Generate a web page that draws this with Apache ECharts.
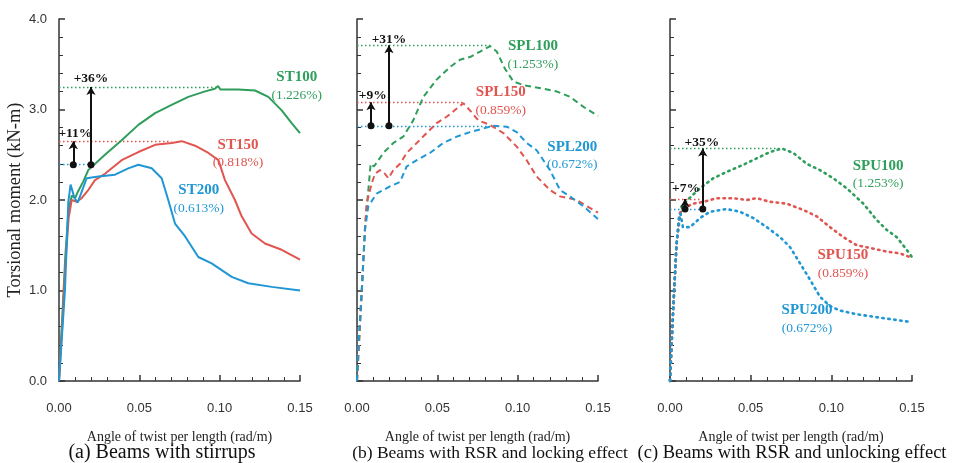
<!DOCTYPE html>
<html><head><meta charset="utf-8">
<script src="https://cdn.jsdelivr.net/npm/echarts@6/dist/echarts.min.js"></script>
<style>html,body{margin:0;padding:0;background:#fff}#c{width:953px;height:463px}</style>
</head><body><div id="c"></div>
<script>
// ---- data (x: rad/m, y: kN-m) ----
const st100 = [[0,0],[0.002,0.7],[0.004,1.4],[0.006,1.9],[0.008,2.05],[0.010,2.02],[0.012,2.1],[0.015,2.2],[0.0182,2.33],[0.0286,2.5],[0.039,2.66],[0.0494,2.83],[0.0598,2.96],[0.0701,3.05],[0.0805,3.14],[0.0909,3.2],[0.097,3.23],[0.099,3.26],[0.1005,3.22],[0.1116,3.22],[0.122,3.21],[0.1303,3.14],[0.1386,2.99],[0.1448,2.85],[0.15,2.74]];
const st150 = [[0,0],[0.002,0.6],[0.004,1.3],[0.006,1.8],[0.0079,2.0],[0.011,1.98],[0.0141,2.02],[0.0182,2.11],[0.0224,2.22],[0.0286,2.29],[0.039,2.44],[0.0494,2.53],[0.0598,2.61],[0.0701,2.63],[0.0764,2.65],[0.0847,2.6],[0.093,2.52],[0.0992,2.44],[0.1033,2.22],[0.1095,2.0],[0.1137,1.82],[0.1199,1.63],[0.1282,1.52],[0.1386,1.45],[0.15,1.34]];
const st200 = [[0,0],[0.0037,1.0],[0.0058,1.98],[0.0072,2.17],[0.0095,2.03],[0.0116,1.97],[0.0137,2.07],[0.0172,2.24],[0.0245,2.26],[0.0349,2.28],[0.0431,2.35],[0.0494,2.39],[0.0577,2.35],[0.0639,2.24],[0.068,2.0],[0.0722,1.74],[0.0784,1.6],[0.0867,1.37],[0.095,1.3],[0.1075,1.15],[0.1178,1.08],[0.1324,1.04],[0.15,1.0]];

const spl100 = [[0,0],[0.003,1.0],[0.005,1.7],[0.007,2.1],[0.0085,2.4],[0.0105,2.37],[0.0122,2.41],[0.0164,2.52],[0.0226,2.63],[0.0288,2.7],[0.035,2.88],[0.0413,3.14],[0.0496,3.33],[0.0579,3.47],[0.0641,3.55],[0.0703,3.58],[0.0766,3.64],[0.0828,3.7],[0.087,3.64],[0.0921,3.45],[0.0973,3.31],[0.1035,3.27],[0.1098,3.25],[0.116,3.23],[0.1243,3.2],[0.1326,3.14],[0.1409,3.03],[0.15,2.93]];
const spl150 = [[0,0],[0.003,1.0],[0.005,1.7],[0.006,1.96],[0.0091,2.18],[0.0112,2.29],[0.0143,2.33],[0.0174,2.29],[0.0195,2.24],[0.0226,2.33],[0.0268,2.4],[0.0309,2.52],[0.0372,2.63],[0.0434,2.74],[0.0496,2.85],[0.0558,2.92],[0.0621,3.01],[0.0662,3.07],[0.0703,2.99],[0.0755,2.88],[0.0828,2.83],[0.0911,2.74],[0.0994,2.59],[0.1056,2.44],[0.1118,2.26],[0.1201,2.11],[0.1264,2.04],[0.1367,2.0],[0.15,1.86]];
const spl200 = [[0,0],[0.0008,0.38],[0.0029,0.99],[0.005,1.67],[0.007,1.93],[0.0122,2.07],[0.0205,2.15],[0.0268,2.2],[0.0309,2.37],[0.0372,2.44],[0.0454,2.52],[0.0537,2.63],[0.0621,2.7],[0.0703,2.75],[0.0786,2.79],[0.0849,2.82],[0.0932,2.81],[0.0994,2.75],[0.1056,2.63],[0.1118,2.55],[0.1201,2.33],[0.1264,2.11],[0.1326,2.04],[0.1409,1.93],[0.15,1.79]];

const spu100 = [[0,0],[0.002,0.8],[0.004,1.5],[0.006,1.8],[0.0073,1.93],[0.012,2.02],[0.0186,2.13],[0.0268,2.24],[0.0351,2.31],[0.0455,2.39],[0.0537,2.46],[0.062,2.53],[0.0692,2.57],[0.0764,2.52],[0.0847,2.4],[0.093,2.33],[0.1012,2.24],[0.1095,2.13],[0.1198,1.96],[0.1281,1.78],[0.1343,1.67],[0.1405,1.59],[0.1467,1.45],[0.15,1.37]];
const spu150 = [[0,0],[0.002,0.8],[0.004,1.5],[0.006,1.85],[0.0083,1.91],[0.0145,1.96],[0.0207,1.98],[0.029,2.02],[0.0393,2.02],[0.0476,2.0],[0.0537,2.02],[0.062,1.98],[0.0723,1.96],[0.0826,1.89],[0.0909,1.82],[0.0992,1.7],[0.1074,1.59],[0.1157,1.5],[0.124,1.47],[0.1343,1.43],[0.1426,1.41],[0.15,1.36]];
const spu200 = [[0,0],[0.002,0.8],[0.004,1.5],[0.0055,1.8],[0.0065,1.85],[0.008,1.7],[0.0124,1.7],[0.0186,1.8],[0.0248,1.87],[0.0351,1.9],[0.0434,1.87],[0.0517,1.8],[0.06,1.7],[0.0682,1.59],[0.0744,1.48],[0.0806,1.3],[0.0868,1.12],[0.093,0.93],[0.099,0.83],[0.105,0.78],[0.115,0.74],[0.126,0.71],[0.138,0.68],[0.15,0.65]];

// peak reference lines: [peak value, x where the dotted line ends]
const peaksA = [[3.25,0.099],[2.65,0.07],[2.39,0.02]];
const peaksB = [[3.71,0.083],[3.08,0.066],[2.82,0.085]];
const peaksC = [[2.57,0.069],[2.01,0.0205],[1.90,0.0186]];
// arrows: [x, from, to]
const arrowsA = [[0.0089,2.39,2.65],[0.0199,2.39,3.25]];
const arrowsB = [[0.0087,2.82,3.08],[0.0199,2.82,3.71]];
const arrowsC = [[0.0093,1.90,2.01],[0.0203,1.90,2.57]];
// increase labels: [text, x, y]
const incA = [['+11%',0.0102,2.73],['+36%',0.0199,3.34]];
const incB = [['+9%',0.0098,3.15],['+31%',0.0199,3.77]];
const incC = [['+7%',0.0099,2.13],['+35%',0.0198,2.64]];
// series names, ratios, label positions
const namesA = [['ST100','(1.226%)',0.148,3.255],['ST150','(0.818%)',0.1114,2.51],['ST200','(0.613%)',0.087,2.01]];
const namesB = [['SPL100','(1.253%)',0.1095,3.6],['SPL150','(0.859%)',0.0895,3.09],['SPL200','(0.672%)',0.134,2.49]];
const namesC = [['SPU100','(1.253%)',0.129,2.28],['SPU150','(0.859%)',0.1072,1.29],['SPU200','(0.672%)',0.0849,0.68]];
const xTicks = [0,0.05,0.10,0.15];
const yTicks = [0,1,2,3,4];
const captions = ['(a) Beams with stirrups','(b) Beams with RSR and locking effect','(c) Beams with RSR and unlocking effect'];
const xTitle = 'Angle of twist per length (rad/m)';
const yTitle = 'Torsional moment (kN-m)';

// ---- styling ----
const GREEN='#2e9e5a', RED='#e05550', BLUE='#1f97d4';
const colors=[GREEN,RED,BLUE];
const SERIF="'Liberation Serif','Times New Roman',serif";
const SANS="'Liberation Sans',Arial,sans-serif";
const grids=[{left:59,top:19,width:241,height:362},{left:357,top:19,width:241,height:362},{left:670,top:19,width:242,height:362}];
const lineTypes=[{type:'solid',width:2},{type:[6,4],width:2},{type:[1.5,4.5],width:2.6,cap:'round'}];
const captionX=[162,490,792];
const captionSize=[20,17.5,18.5];

function xAxis(i){return {gridIndex:i,type:'value',min:xTicks[0],max:xTicks[xTicks.length-1],interval:0.05,
  axisLine:{lineStyle:{color:'#333',width:1.5}},
  axisTick:{inside:true,length:6,lineStyle:{color:'#333',width:1.5}},
  minorTick:{show:true,splitNumber:5,length:4,lineStyle:{color:'#333',width:1}},
  splitLine:{show:false},
  axisLabel:{margin:21,fontFamily:SANS,fontSize:13,color:'#333',formatter:v=>v.toFixed(2)},
  name:xTitle,nameLocation:'middle',nameGap:49,nameTextStyle:{fontFamily:SERIF,fontSize:14,color:'#222'}};}
function yAxis(i){return {gridIndex:i,type:'value',min:yTicks[0],max:yTicks[yTicks.length-1],interval:1,
  axisLine:{show:true,lineStyle:{color:'#333',width:1.5}},
  axisTick:{show:true,inside:true,length:6,lineStyle:{color:'#333',width:1.5}},
  minorTick:{show:true,splitNumber:5,length:4,lineStyle:{color:'#333',width:1}},
  splitLine:{show:false},
  axisLabel:{show:i===0,margin:12,fontFamily:SANS,fontSize:13,color:'#333',formatter:v=>v.toFixed(1)},
  name:i===0?yTitle:'',nameLocation:'middle',nameGap:34,nameRotate:90,nameTextStyle:{fontFamily:SERIF,fontSize:18.5,color:'#222'}};}

const panels=[[st100,st150,st200],[spl100,spl150,spl200],[spu100,spu150,spu200]];
const peaks=[peaksA,peaksB,peaksC], arrows=[arrowsA,arrowsB,arrowsC], incs=[incA,incB,incC], names=[namesA,namesB,namesC];
const series=[];
panels.forEach((p,i)=>{
  p.forEach((d,k)=>{
    const nm=names[i][k];
    series.push({type:'line',xAxisIndex:i,yAxisIndex:i,data:d,showSymbol:false,symbol:'none',silent:true,clip:false,
      lineStyle:Object.assign({color:colors[k]},lineTypes[i]),z:3,
      markLine:{silent:true,symbol:'none',label:{show:false},lineStyle:{color:colors[k],type:[1.5,2.5],width:1.4},z:2,
        data:[[{coord:[0,peaks[i][k][0]]},{coord:[peaks[i][k][1],peaks[i][k][0]]}]]},
      markPoint:{silent:true,symbol:'circle',symbolSize:0,
        data:[{coord:[nm[2],nm[3]],label:{show:true,position:'inside',formatter:'{n|'+nm[0]+'}\n{p|'+nm[1]+'}',
          rich:{n:{fontFamily:SERIF,fontWeight:'bold',fontSize:15,color:colors[k],lineHeight:18,align:'center'},
                p:{fontFamily:SERIF,fontSize:13.5,color:colors[k],lineHeight:18,align:'center'}}}}]}
    });
  });
  series.push({type:'line',xAxisIndex:i,yAxisIndex:i,data:[],silent:true,z:5,
    markLine:{silent:true,symbol:['circle','arrow'],symbolSize:[7,8],label:{show:false},
      lineStyle:{color:'#111',type:'solid',width:2},
      data:arrows[i].map(a=>[{coord:[a[0],a[1]]},{coord:[a[0],a[2]]}])},
    markPoint:{silent:true,symbol:'circle',symbolSize:0,
      data:incs[i].map(t=>({coord:[t[1],t[2]],label:{show:true,position:'inside',formatter:t[0],
        fontFamily:SERIF,fontWeight:'bold',fontSize:13.5,color:'#111'}}))}
  });
});

const chart=echarts.init(document.getElementById('c'),null,{renderer:'canvas'});
chart.setOption({
  animation:false,backgroundColor:'#fff',
  grid:grids,
  xAxis:[0,1,2].map(xAxis),
  yAxis:[0,1,2].map(yAxis),
  series:series,
  graphic:captions.map((c,i)=>({type:'text',x:captionX[i],y:453,style:{text:c,fontFamily:SERIF,fontSize:captionSize[i],fill:'#111',textAlign:'center',textVerticalAlign:'middle'}}))
});
</script></body></html>
